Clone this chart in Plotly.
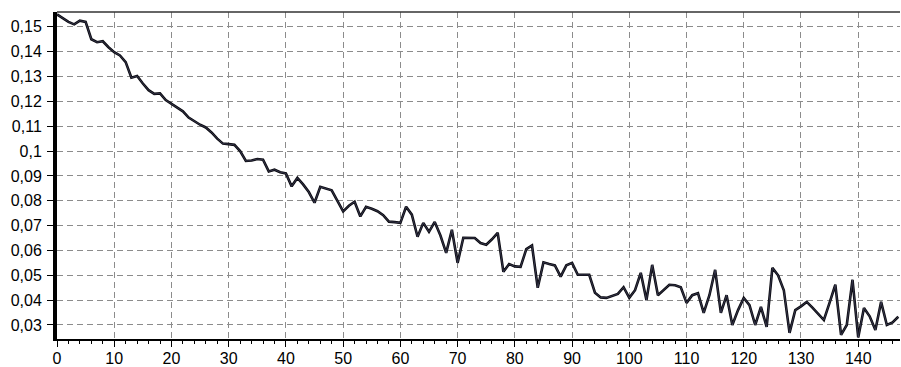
import plotly.graph_objects as go

x_vals = list(range(0, 148))
y_vals = [
    0.1550, 0.1535, 0.1520, 0.1510, 0.1525, 0.1520, 0.1450, 0.1438, 0.1442, 0.1418,
    0.1398, 0.1385, 0.1358, 0.1295, 0.1302, 0.1272, 0.1245, 0.1230, 0.1232, 0.1205,
    0.1190, 0.1172, 0.1160, 0.1135, 0.1120, 0.1106, 0.1095, 0.1075, 0.1050, 0.1030,
    0.1028, 0.1025, 0.1000, 0.0960, 0.0962, 0.0968, 0.0965, 0.0918, 0.0925, 0.0915,
    0.0910, 0.0858, 0.0892, 0.0866, 0.0835, 0.0792, 0.0856, 0.0848, 0.0842, 0.0800,
    0.0757, 0.0780, 0.0796, 0.0737, 0.0776, 0.0768, 0.0758, 0.0742, 0.0716, 0.0714,
    0.0711, 0.0776, 0.0744, 0.0655, 0.0711, 0.0675, 0.0715, 0.0660, 0.0590, 0.0683,
    0.0550, 0.0651, 0.0651, 0.0650, 0.0630, 0.0623, 0.0645, 0.0671, 0.0514, 0.0545,
    0.0536, 0.0534, 0.0605, 0.0620, 0.0450, 0.0552, 0.0545, 0.0540, 0.0495, 0.0540,
    0.0550, 0.0502, 0.0502, 0.0502, 0.0430, 0.0411, 0.0409, 0.0418, 0.0425, 0.0452,
    0.0409, 0.0440, 0.0510, 0.0400, 0.0542, 0.0420, 0.0440, 0.0462, 0.0460, 0.0452,
    0.0389, 0.0420, 0.0428, 0.0349, 0.0420, 0.0522, 0.0349, 0.0420, 0.0300, 0.0360,
    0.0409, 0.0380, 0.0300, 0.0373, 0.0292, 0.0530, 0.0500, 0.0440, 0.0268, 0.0360,
    0.0375, 0.0393, 0.0370, 0.0345, 0.0320, 0.0390, 0.0462, 0.0260, 0.0300, 0.0482,
    0.0250, 0.0368, 0.0335, 0.0280, 0.0393, 0.0300, 0.0310, 0.0333,
]

x_ticks = [0, 10, 20, 30, 40, 50, 60, 70, 80, 90, 100, 110, 120, 130, 140]
y_ticks = [0.03, 0.04, 0.05, 0.06, 0.07, 0.08, 0.09, 0.10, 0.11, 0.12, 0.13, 0.14, 0.15]
y_tick_text = ["0,03", "0,04", "0,05", "0,06", "0,07", "0,08", "0,09", "0,1",
               "0,11", "0,12", "0,13", "0,14", "0,15"]

fig = go.Figure()
fig.add_trace(go.Scatter(x=x_vals, y=y_vals, mode="lines",
                         line=dict(color="#0a0a10", width=2.6), showlegend=False))
fig.add_trace(go.Scatter(x=x_vals, y=y_vals, mode="lines",
                         line=dict(color="#50506e", width=0.6), showlegend=False))

grid = dict(showgrid=True, gridcolor="#8c8c8c", gridwidth=1, griddash="6px,4px")

fig.update_layout(
    width=901, height=367,
    margin=dict(l=57, r=1, t=12, b=28),
    paper_bgcolor="white", plot_bgcolor="white",
    font=dict(family="Liberation Sans, Arial, sans-serif", size=16, color="black"),
    xaxis=dict(range=[0, 147.3], tickvals=x_ticks, ticks="outside", ticklen=6,
               tickcolor="black", showline=True, linecolor="black", linewidth=2,
               zeroline=False, automargin=False, ticklabelstandoff=-2,
               minor=dict(dtick=2, ticks="outside", ticklen=3, tickcolor="black", showgrid=False),
               **grid),
    yaxis=dict(range=[0.02436, 0.15597], tickvals=y_ticks, ticktext=y_tick_text,
               ticks="outside", ticklen=6, tickcolor="black", showline=True,
               linecolor="black", linewidth=4, zeroline=False, ticklabelstandoff=2,
               automargin=False,
               **grid),
    shapes=[dict(type="line", xref="paper", yref="paper", x0=0, x1=1, y0=1, y1=1,
                 line=dict(color="#333333", width=1.5))],
)

fig.write_html("out.html", config={"displayModeBar": False},
               post_script="document.body.style.margin='0';document.body.style.overflow='hidden';")
